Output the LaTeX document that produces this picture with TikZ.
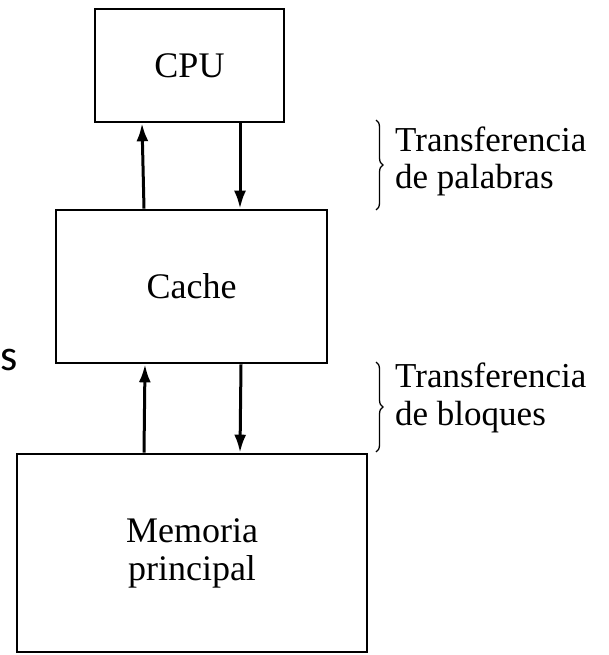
\documentclass[tikz,border=0pt]{standalone}
\usepackage{fontspec}
\setmainfont{Liberation Serif}
\newfontfamily\sidefont{Carlito}
\usetikzlibrary{arrows.meta,decorations.pathreplacing}
\begin{document}
\begin{tikzpicture}[x=1pt,y=-1pt,
  unit/.style={draw,line width=2.6pt,inner sep=0pt,align=center,
    font=\fontsize{36}{38}\selectfont},
  flow/.style={line width=3pt,-{Latex[length=18pt,width=12pt]}},
  span/.style={line width=1.3pt,decorate,decoration={brace,amplitude=7pt}},
  note/.style={anchor=base west,inner sep=0pt,align=left,
    font=\fontsize{35}{36}\selectfont}]
\useasboundingbox (0,0) rectangle (609,655);

% memory hierarchy blocks
\node[unit,minimum width=189pt,minimum height=113pt] (cpu) at (189.5,65.5) {CPU};
\node[unit,minimum width=271pt,minimum height=153pt] (cache) at (191.5,286.5) {Cache};
\node[unit,minimum width=350pt,minimum height=198pt] (mem) at (192,553) {Memoria\\principal};

% word transfers between CPU and cache
\draw[flow] ([xshift=-47.5pt]cache.north) -- ([xshift=-47.5pt]cpu.south);
\draw[flow] ([xshift=50.5pt]cpu.south) -- ([xshift=48.5pt]cache.north);

% block transfers between cache and main memory
\draw[flow] ([xshift=-48pt]mem.north) -- ([xshift=-46.5pt]cache.south);
\draw[flow] ([xshift=49.5pt]cache.south) -- ([xshift=48pt]mem.north);

% side braces and their labels
\coordinate (b1t) at (376,120);
\coordinate (b1b) at (376,210);
\coordinate (b2t) at (376,362);
\coordinate (b2b) at (376,452);
\draw[span] (b1t) -- (b1b);
\draw[span] (b2t) -- (b2b);
\node[note] (t1) at (395,152) {Transferencia};
\node[note] (t1b) at (395,188) {de palabras};
\node[note] (t2) at (395,387) {Transferencia};
\node[note] (t2b) at (395,425) {de bloques};

% letter at the left edge
\node[anchor=base west,inner sep=0pt,font=\sidefont\fontsize{44}{44}\selectfont] (edge) at (0,370) {s};
\end{tikzpicture}
\end{document}
